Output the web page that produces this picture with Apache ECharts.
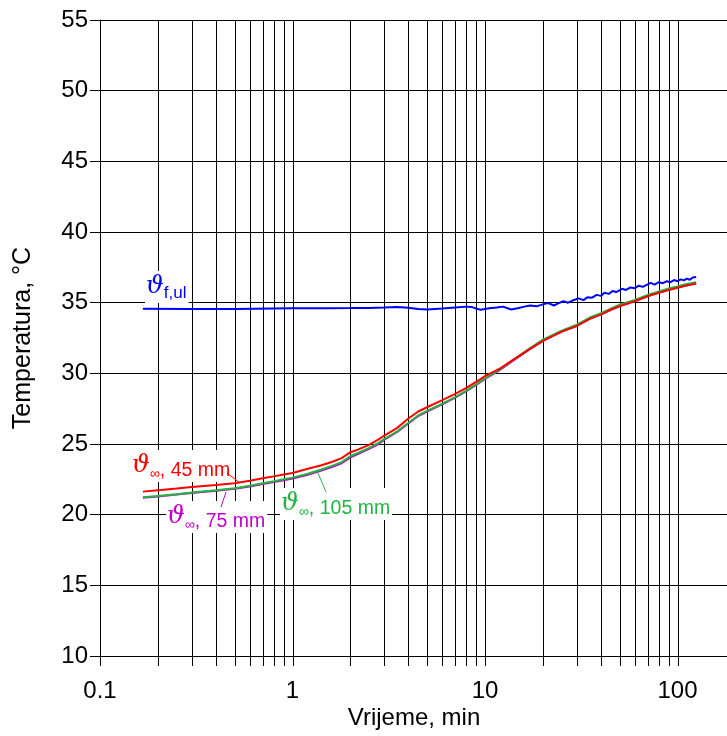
<!DOCTYPE html>
<html>
<head>
<meta charset="utf-8">
<script src="https://cdn.jsdelivr.net/npm/echarts@6/dist/echarts.min.js"></script>
<style>html,body{margin:0;padding:0;background:#fff}#c{width:727px;height:736px}</style>
</head>
<body>
<div id="c"></div>
<script>
// ---- data ----
const timeProbe = [0.167, 0.2, 0.25, 0.3, 0.4, 0.5, 0.6, 0.7, 0.8, 0.9, 1.0, 1.2, 1.4, 1.6, 1.8, 2.0, 2.2, 2.5, 2.8, 3.0, 3.5, 4.0, 4.5, 5.0, 6.0, 7.0, 8.0, 9.0, 10, 12, 14, 17, 20, 25, 30, 35, 40, 45, 50, 60, 70, 80, 90, 100, 110, 125];
const temp45 = [21.63, 21.73, 21.85, 21.95, 22.1, 22.23, 22.4, 22.57, 22.71, 22.84, 22.95, 23.25, 23.48, 23.73, 24.0, 24.42, 24.62, 24.94, 25.33, 25.6, 26.14, 26.8, 27.3, 27.6, 28.1, 28.55, 28.97, 29.4, 29.8, 30.35, 30.95, 31.7, 32.3, 32.95, 33.35, 33.85, 34.15, 34.5, 34.75, 35.1, 35.45, 35.7, 35.9, 36.05, 36.2, 36.35];
const temp75 = [21.2, 21.29, 21.42, 21.53, 21.69, 21.84, 22.0, 22.17, 22.31, 22.44, 22.55, 22.83, 23.1, 23.37, 23.64, 24.05, 24.3, 24.65, 25.0, 25.3, 25.85, 26.45, 26.98, 27.3, 27.8, 28.28, 28.74, 29.18, 29.6, 30.25, 30.9, 31.7, 32.3, 32.95, 33.37, 33.87, 34.17, 34.5, 34.77, 35.12, 35.47, 35.72, 35.92, 36.07, 36.22, 36.37];
const temp105 = [21.23, 21.32, 21.45, 21.56, 21.72, 21.87, 22.04, 22.22, 22.37, 22.51, 22.62, 22.9, 23.18, 23.45, 23.72, 24.15, 24.38, 24.72, 25.08, 25.37, 25.9, 26.5, 27.02, 27.35, 27.85, 28.32, 28.78, 29.22, 29.65, 30.3, 30.95, 31.75, 32.38, 33.02, 33.45, 33.95, 34.25, 34.58, 34.85, 35.2, 35.55, 35.8, 36.0, 36.15, 36.3, 36.45];
const timeInlet = [0.167, 0.3, 0.5, 1.0, 1.5, 2.0, 2.5, 3.0, 3.5, 4.0, 4.5, 5.0, 6.0, 7.0, 8.0, 8.5, 9.0, 9.5, 10.5, 11.5, 12.4, 13.0, 13.7, 15, 16, 17.2, 18.5, 20, 21.2, 22.8, 24, 25.5, 27, 28.5, 30.6, 32.5, 34, 36, 38, 40, 41.7, 44, 46, 48, 51.6, 54, 57, 60, 63, 66, 70, 72.6, 76, 80, 84, 88, 92, 96, 100, 104, 108, 112, 116, 120, 125];
const tempInlet = [34.57, 34.56, 34.56, 34.6, 34.61, 34.62, 34.63, 34.66, 34.7, 34.64, 34.55, 34.52, 34.58, 34.66, 34.72, 34.7, 34.58, 34.5, 34.6, 34.66, 34.72, 34.62, 34.52, 34.62, 34.72, 34.8, 34.74, 34.88, 34.98, 34.8, 34.95, 35.1, 35.0, 35.15, 35.3, 35.18, 35.38, 35.35, 35.55, 35.48, 35.7, 35.62, 35.82, 35.75, 35.98, 35.9, 36.08, 36.02, 36.2, 36.12, 36.3, 36.4, 36.28, 36.45, 36.38, 36.52, 36.45, 36.6, 36.52, 36.65, 36.58, 36.7, 36.62, 36.78, 36.82];
const xGridValues = [0.1,0.2,0.3,0.4,0.5,0.6,0.7,0.8,0.9,1,2,3,4,5,6,7,8,9,10,20,30,40,50,60,70,80,90,100,200,300,400,500,600,700,800,900,1000];
const xTickLabels = {0.1:'0.1', 1:'1', 10:'10', 100:'100', 1000:'1000'};
const yMin = 10, yMax = 55, yStep = 5;

function pairs(xs, ys){ return xs.map((x,i)=>[x, ys[i]]); }

const FONT = 'Liberation Sans';
const chart = echarts.init(document.getElementById('c'), null, {renderer:'canvas'});

const lineSeries = (name, xs, ys, color, z) => ({
  type:'line', name, data: pairs(xs, ys), showSymbol:false, symbol:'none',
  lineStyle:{color, width:2}, itemStyle:{color}, z, silent:true, animation:false, clip:true
});

chart.setOption({
  animation:false,
  grid:{left:100, right:-143, top:20, bottom:80, outerBoundsMode:'none', containLabel:false},
  xAxis:{
    type:'log', logBase:10, min:0.1, max:1000,
    axisLine:{show:false}, axisTick:{show:false}, splitLine:{show:false},
    axisLabel:{color:'#000', fontSize:24, fontFamily:FONT, margin:23,
      formatter:v=>{ for (const k in xTickLabels){ if (Math.abs(Math.log10(v)-Math.log10(+k))<1e-6) return xTickLabels[k]; } return ''; }}
  },
  yAxis:{
    type:'value', min:yMin, max:yMax, interval:yStep,
    name:'Temperatura, °C', nameLocation:'middle', nameGap:64, nameRotate:90,
    nameTextStyle:{color:'#000', fontSize:25, fontFamily:FONT},
    axisLine:{show:true, lineStyle:{color:'#000', width:1}},
    axisTick:{show:true, length:10, lineStyle:{color:'#000', width:1}},
    splitLine:{show:true, lineStyle:{color:'#000', width:1}},
    axisLabel:{color:'#000', fontSize:24, fontFamily:FONT, margin:12}
  },
  series:[
    {
      type:'custom', silent:true, z:1, clip:false,
      data: xGridValues.map(v=>[v, yMin]),
      encode:{x:0, y:1},
      renderItem:(params, api)=>{
        const v = api.value(0);
        const pb = api.coord([v, yMin]);
        const pt = api.coord([v, yMax]);
        const x = Math.round(pb[0]) + 0.5;
        return {type:'line', shape:{x1:x, y1:pt[1], x2:x, y2:pb[1]+10}, style:{stroke:'#000', lineWidth:1}};
      }
    },
    lineSeries('ϑ∞, 75 mm', timeProbe, temp75, '#c000c8', 5),
    lineSeries('ϑ∞, 105 mm', timeProbe, temp105, '#22b440', 6),
    lineSeries('ϑ∞, 45 mm', timeProbe, temp45, '#ff0000', 7),
    lineSeries('ϑf,ul', timeInlet, tempInlet, '#0000ff', 8)
  ]
});

function richLabel(sub, rest, color, subSize){
  return {
    text: '{t|ϑ}{s|' + sub + '}' + (rest ? '{n|' + rest + '}' : ''),
    rich:{
      t:{fontFamily:'DejaVu Serif', fontStyle:'italic', fontSize:25, fill:color, lineHeight:30, verticalAlign:'bottom', padding:[0,0,3,0]},
      s:{fontFamily:FONT, fontSize:subSize, fill:color, lineHeight:17, verticalAlign:'bottom'},
      n:{fontFamily:FONT, fontSize:19.5, fill:color, lineHeight:22, verticalAlign:'bottom'}
    },
    backgroundColor:'#fff', padding:[1,2,1,1]
  };
}

chart.setOption({
  graphic:[
    {type:'text', left:145, top:271, z:50, style:richLabel('f,ul','', '#0000ff', 17)},
    {type:'text', left:131, top:450, z:50, style:richLabel('∞',', 45 mm', '#ff0000', 14)},
    {type:'text', left:166, top:501, z:50, style:richLabel('∞',', 75 mm', '#c000c8', 14)},
    {type:'text', left:280, top:488, z:50, style:richLabel('∞',', 105 mm', '#22b440', 14)},
    {type:'line', z:50, shape:{x1:227, y1:473, x2:240, y2:483}, style:{stroke:'#ff0000', lineWidth:1}},
    {type:'line', z:50, shape:{x1:226, y1:492, x2:221, y2:507}, style:{stroke:'#c000c8', lineWidth:1}},
    {type:'line', z:50, shape:{x1:318, y1:473, x2:326, y2:492}, style:{stroke:'#22b440', lineWidth:1}},
    {type:'text', x:414, y:718, z:50, style:{text:'Vrijeme, min', fontFamily:FONT, fontSize:24, fill:'#000', align:'center', verticalAlign:'middle'}}
  ]
});
</script>
</body>
</html>
